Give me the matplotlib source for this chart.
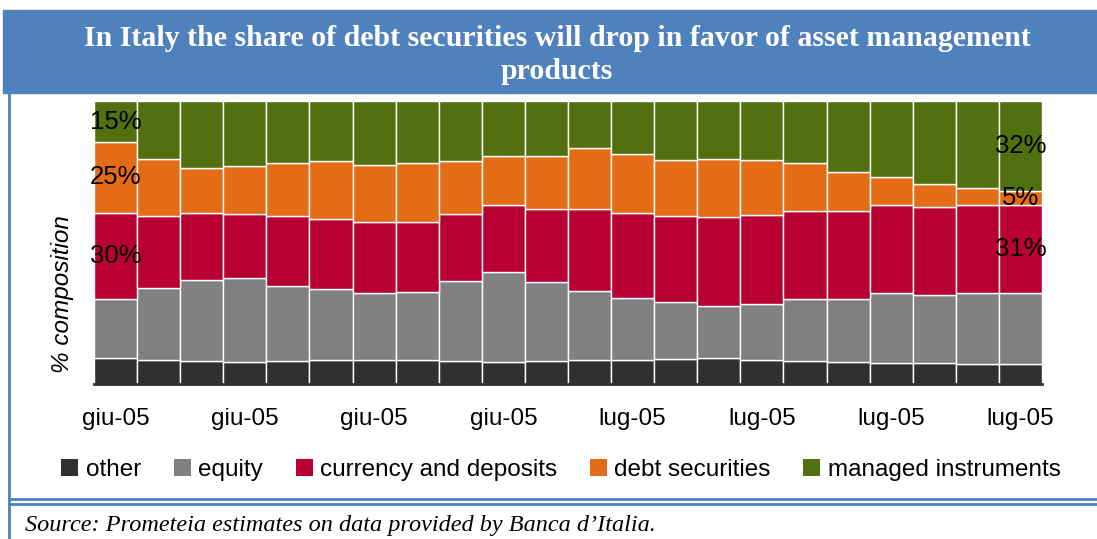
import matplotlib.pyplot as plt
from matplotlib.patches import Rectangle, Patch
from matplotlib.lines import Line2D
import numpy as np

# composition (%) of Italian household financial assets, 22 periods
periods = ['giu-05'] * 11 + ['lug-05'] * 11
other = [9.2, 8.4, 8.1, 7.9, 8.1, 8.4, 8.6, 8.4, 8.0, 7.6, 8.1,
         8.5, 8.5, 8.7, 9.1, 8.4, 8.0, 7.9, 7.5, 7.5, 7.2, 7.2]
equity = [20.9, 25.4, 28.8, 29.6, 26.5, 25.2, 23.6, 24.1, 28.4, 31.8, 27.8,
          24.5, 22.0, 20.4, 18.5, 20.0, 22.0, 22.1, 24.6, 23.9, 24.9, 25.0]
currency = [30.5, 25.7, 23.7, 22.7, 24.6, 24.8, 25.2, 24.6, 23.5, 23.7, 25.9,
            29.0, 30.0, 30.4, 31.5, 31.4, 31.3, 31.3, 31.0, 31.3, 31.2, 30.9]
debt = [24.8, 20.0, 15.8, 16.7, 18.8, 20.4, 20.0, 21.0, 19.0, 17.4, 18.9,
        21.4, 20.6, 19.7, 20.4, 19.3, 16.8, 13.6, 9.9, 7.9, 6.0, 5.1]
managed = [14.6, 20.5, 23.6, 23.1, 22.0, 21.2, 22.6, 21.9, 21.1, 19.5, 19.3,
           16.6, 18.9, 20.8, 20.5, 20.9, 21.9, 25.1, 27.0, 29.4, 30.7, 31.8]

series = [other, equity, currency, debt, managed]
names = ['other', 'equity', 'currency and deposits', 'debt securities', 'managed instruments']
colors = ['#2f312e', '#808080', '#b80033', '#e46c17', '#52700f']
blue = '#4f81bd'

W, H = 1097, 539
fig = plt.figure(figsize=(W / 100, H / 100), dpi=100)

# title banner
fig.patches.append(Rectangle((3 / W, 1 - 93 / H), 1 - 3 / W, 83 / H,
                             transform=fig.transFigure, color=blue, zorder=0))
fig.text(0.508, 1 - 55 / H,
         'In Italy the share of debt securities will drop in favor of asset management\nproducts',
         ha='center', va='center', color='white', fontsize=21.5, fontweight='bold',
         family='Liberation Serif', linespacing=1.3)

# frame lines
fig.add_artist(Line2D([9 / W, 9 / W], [0, 1 - 93 / H], color=blue, lw=2))
fig.add_artist(Line2D([9 / W, 1], [1 - 499 / H] * 2, color=blue, lw=2))
fig.add_artist(Line2D([9 / W, 1], [1 - 504 / H] * 2, color=blue, lw=2))

ax = fig.add_axes([94 / W, 1 - 384 / H, 948 / W, 283 / H])
x = np.arange(len(periods))
bottom = np.zeros(len(periods))
for vals, c in zip(series, colors):
    ax.bar(x, vals, bottom=bottom, width=1.0, color=c, edgecolor='white', linewidth=1.0)
    bottom += np.array(vals)

ax.set_xlim(-0.5, len(periods) - 0.5)
ax.set_ylim(0, 100)
for s in ['top', 'right', 'left']:
    ax.spines[s].set_visible(False)
ax.spines['bottom'].set_color('#2f312e')
ax.spines['bottom'].set_linewidth(2)
ax.set_yticks([])
ax.set_xticks(x[::3])
ax.set_xticklabels(periods[::3], family='Liberation Sans', fontsize=17.5)
ax.tick_params(axis='x', length=0, pad=17)

# value labels on first and last bar (skip "other" and "equity")
for idx in [0, len(periods) - 1]:
    base = 0
    for k, vals in enumerate(series):
        if k >= 2:
            ax.text(idx, base + vals[idx] / 2, f'{round(vals[idx])}%', ha='center', va='center',
                    fontsize=18.5, family='Liberation Sans', color='black')
        base += vals[idx]

fig.text(62 / W, 1 - 294 / H, '% composition', rotation=90, ha='center', va='center',
         fontsize=17.5, style='italic', family='Liberation Sans')

handles = [Patch(facecolor=c, label=n) for c, n in zip(colors, names)]
fig.legend(handles=handles, loc='center', bbox_to_anchor=(561 / W, 1 - 470 / H), ncol=5,
           frameon=False, prop={'family': 'Liberation Sans', 'size': 17.5},
           handlelength=0.7, handleheight=0.7, handletextpad=0.3, columnspacing=1.35)

fig.text(25 / W, 1 - 526 / H, 'Source: Prometeia estimates on data provided by Banca d\u2019Italia.',
         ha='left', va='center', fontsize=17.5, style='italic', family='Liberation Serif')

plt.savefig('out.png', dpi=100)
